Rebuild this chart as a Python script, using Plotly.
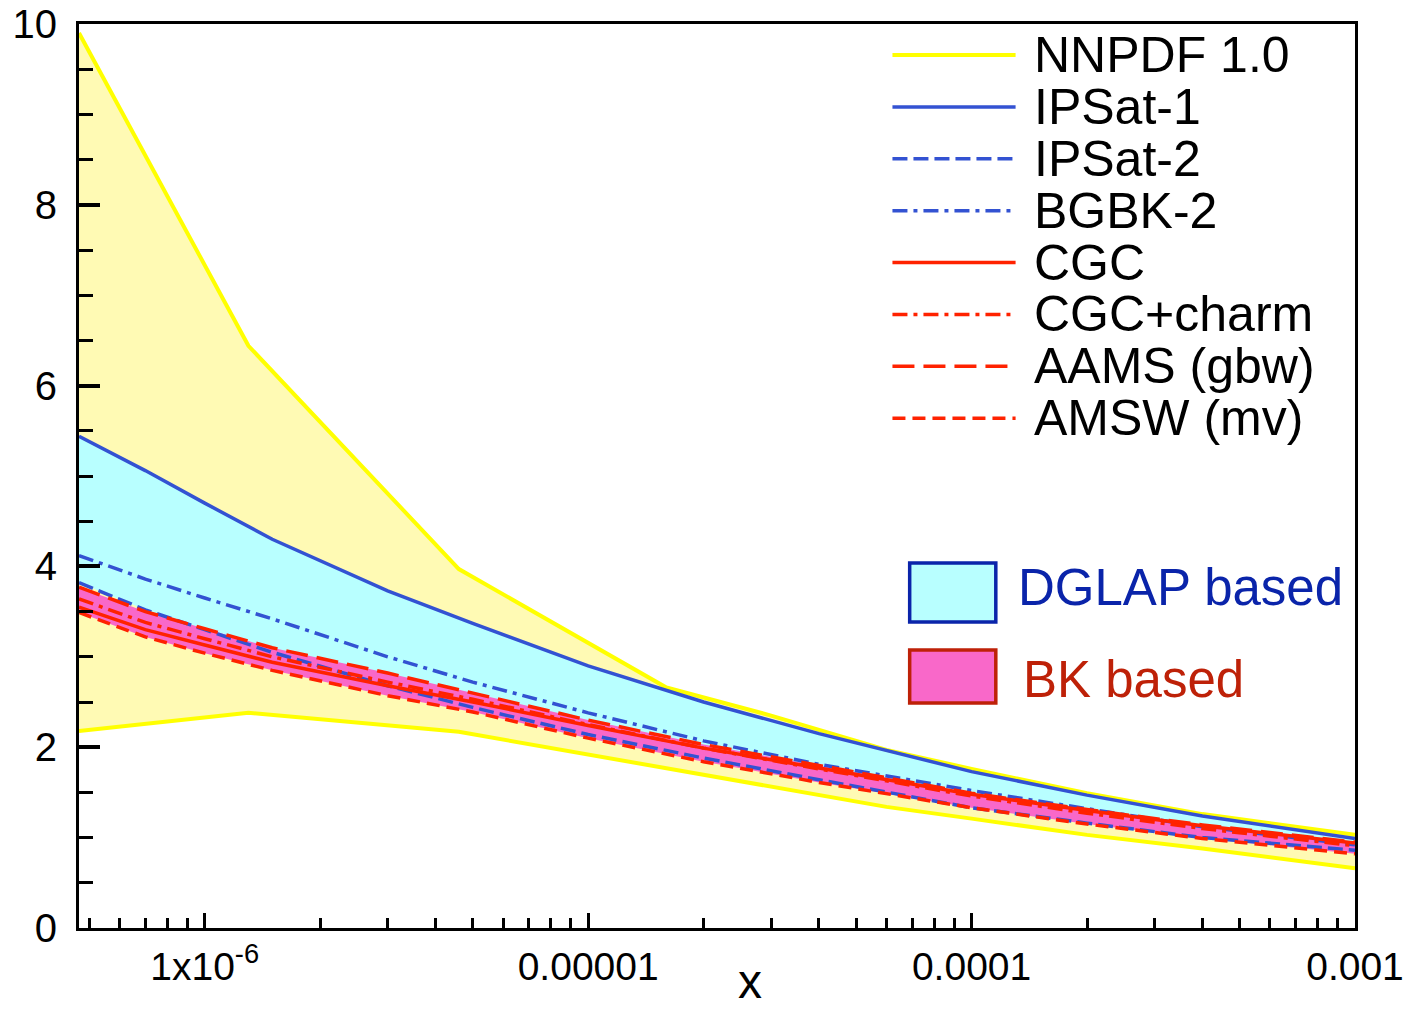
import numpy as np
import plotly.graph_objects as go

# ---------------- data ----------------
x_nn = [4.7e-7, 1.3e-6, 4.6e-6, 1.6e-5, 3e-5, 6e-5, 1e-4, 2e-4, 4e-4, 1e-3]
nnpdf_upper = [9.9, 6.44, 3.97, 2.66, 2.35, 1.97, 1.76, 1.49, 1.26, 1.03]
nnpdf_lower = [2.18, 2.38, 2.17, 1.77, 1.57, 1.34, 1.21, 1.03, 0.88, 0.66]

x_mod = [4.7e-7, 7e-7, 1e-6, 1.5e-6, 3e-6, 5e-6, 1e-5, 2e-5, 4e-5, 1e-4, 2e-4, 4e-4, 1e-3]
ipsat1 = [5.44, 5.06, 4.70, 4.30, 3.73, 3.37, 2.90, 2.50, 2.15, 1.73, 1.47, 1.24, 0.99]
ipsat2 = [3.82, 3.52, 3.30, 3.05, 2.68, 2.44, 2.14, 1.88, 1.64, 1.33, 1.16, 1.00, 0.86]
bgbk2 = [4.12, 3.86, 3.65, 3.42, 3.00, 2.72, 2.38, 2.07, 1.81, 1.52, 1.32, 1.12, 0.92]
cgc = [3.55, 3.30, 3.13, 2.94, 2.68, 2.50, 2.24, 1.99, 1.77, 1.48, 1.30, 1.13, 0.94]
cgc_charm = [3.64, 3.38, 3.20, 3.00, 2.72, 2.53, 2.25, 1.99, 1.76, 1.46, 1.27, 1.10, 0.91]
aams = [3.77, 3.50, 3.31, 3.10, 2.82, 2.60, 2.30, 2.03, 1.80, 1.49, 1.31, 1.14, 0.95]
amsw = [3.49, 3.22, 3.04, 2.85, 2.57, 2.39, 2.10, 1.84, 1.61, 1.33, 1.15, 0.99, 0.82]

x_tickvals = [1e-6, 1e-5, 1e-4, 1e-3]
x_ticktext = ["1x10<sup>-6</sup>", "0.00001", "0.0001", "0.001"]
y_tickvals = [0, 2, 4, 6, 8, 10]

legend_names = ["NNPDF 1.0", "IPSat-1", "IPSat-2", "BGBK-2", "CGC", "CGC+charm", "AAMS (gbw)", "AMSW (mv)"]

# ---------------- styles ----------------
YELLOW = "#FFFF00"
YELLOW_FILL = "#FFFAB4"
CYAN_FILL = "#B8FFFF"
PINK_FILL = "#F968C9"
BLUE = "#3352D2"
RED = "#FF2200"
FONT = "Liberation Sans, Arial, sans-serif"

styles = {
    "NNPDF 1.0": dict(color=YELLOW, dash="solid", width=4),
    "IPSat-1": dict(color=BLUE, dash="solid", width=3.5),
    "IPSat-2": dict(color=BLUE, dash="15px,6px", width=3.5),
    "BGBK-2": dict(color=BLUE, dash="15px,6px,4px,6px", width=3.5),
    "CGC": dict(color=RED, dash="solid", width=3.5),
    "CGC+charm": dict(color=RED, dash="15px,6px,4px,6px", width=3.5),
    "AAMS (gbw)": dict(color=RED, dash="22px,9px", width=3.5),
    "AMSW (mv)": dict(color=RED, dash="13px,7px", width=3.5),
}

fig = go.Figure()

def band(x, lo, hi, color):
    xs = list(x) + list(x)[::-1]
    ys = list(lo) + list(hi)[::-1]
    fig.add_trace(go.Scatter(x=xs, y=ys, mode="lines", fill="toself", fillcolor=color,
                             line=dict(width=0, color=color), hoverinfo="skip", showlegend=False))

# bands
band(x_nn, nnpdf_lower, nnpdf_upper, YELLOW_FILL)
dglap = np.array([ipsat1, ipsat2, bgbk2])
band(x_mod, dglap.min(axis=0), dglap.max(axis=0), CYAN_FILL)
bk = np.array([cgc, cgc_charm, aams, amsw])
band(x_mod, bk.min(axis=0), bk.max(axis=0), PINK_FILL)

def line(x, y, name):
    st = styles[name]
    fig.add_trace(go.Scatter(x=x, y=y, mode="lines", name=name, showlegend=False,
                             line=dict(color=st["color"], dash=st["dash"], width=st["width"])))

line(x_nn, nnpdf_upper, "NNPDF 1.0")
line(x_nn, nnpdf_lower, "NNPDF 1.0")
line(x_mod, ipsat1, "IPSat-1")
line(x_mod, ipsat2, "IPSat-2")
line(x_mod, bgbk2, "BGBK-2")
line(x_mod, amsw, "AMSW (mv)")
line(x_mod, cgc, "CGC")
line(x_mod, cgc_charm, "CGC+charm")
line(x_mod, aams, "AAMS (gbw)")

# ---------------- manual legend ----------------
shapes = []
annotations = []
row0 = 0.9657
drow = 0.0574
lx0, lx1, tx = 0.6375, 0.7340, 0.7470
for i, name in enumerate(legend_names):
    yy = row0 - i * drow
    st = styles[name]
    shapes.append(dict(type="line", xref="paper", yref="paper", x0=lx0, x1=lx1, y0=yy, y1=yy,
                       line=dict(color=st["color"], dash=st["dash"], width=st["width"])))
    annotations.append(dict(xref="paper", yref="paper", x=tx, y=yy, text=name, showarrow=False,
                            xanchor="left", yanchor="middle", font=dict(family=FONT, size=50, color="black")))

# band legend boxes
shapes.append(dict(type="rect", xref="paper", yref="paper", x0=0.6510, x1=0.7185, y0=0.3385, y1=0.4038,
                   fillcolor=CYAN_FILL, line=dict(color="#0A24AA", width=3.5)))
shapes.append(dict(type="rect", xref="paper", yref="paper", x0=0.6510, x1=0.7185, y0=0.2489, y1=0.3075,
                   fillcolor=PINK_FILL, line=dict(color="#BE2108", width=3.5)))
annotations.append(dict(xref="paper", yref="paper", x=0.7340, y=0.3767, text="DGLAP based", showarrow=False,
                        xanchor="left", yanchor="middle", font=dict(family=FONT, size=51, color="#0A24AA")))
annotations.append(dict(xref="paper", yref="paper", x=0.7380, y=0.2754, text="BK based", showarrow=False,
                        xanchor="left", yanchor="middle", font=dict(family=FONT, size=51, color="#BE2108")))
# x-axis title
annotations.append(dict(xref="paper", yref="paper", x=0.526, y=-0.0907, text="x", showarrow=False,
                        xanchor="center", yanchor="bottom", font=dict(family=FONT, size=48, color="black")))

x_minor = [m * 10.0 ** d for d in range(-7, -3) for m in range(2, 10) if 4.7e-7 <= m * 10.0 ** d <= 1e-3]

fig.update_layout(
    width=1403, height=1011,
    margin=dict(l=79, r=48, t=24, b=83, autoexpand=False),
    paper_bgcolor="white", plot_bgcolor="white",
    font=dict(family=FONT, size=40, color="black"),
    shapes=shapes, annotations=annotations,
    showlegend=False,
)
fig.update_xaxes(
    type="log", range=[np.log10(4.7e-7), -3 + 1e-6],
    automargin=False, ticklabeloverflow="allow",
    showline=True, linecolor="black", linewidth=3, mirror=True,
    showgrid=False, zeroline=False,
    tickmode="array", tickvals=x_tickvals, ticktext=x_ticktext,
    ticks="inside", ticklen=15, tickwidth=3, tickcolor="black",
    tickfont=dict(family=FONT, size=39, color="black"), ticklabelstandoff=2,
    minor=dict(tickmode="array", tickvals=x_minor, ticks="inside", ticklen=10, tickwidth=2.5,
               tickcolor="black", showgrid=False),
)
fig.update_yaxes(
    range=[0, 10],
    automargin=False, ticklabeloverflow="allow",
    showline=True, linecolor="black", linewidth=3, mirror=True,
    showgrid=False, zeroline=False,
    tickmode="array", tickvals=y_tickvals,
    ticks="inside", ticklen=21, tickwidth=4, tickcolor="black",
    tickfont=dict(family=FONT, size=40, color="black"), ticklabelstandoff=11,
    minor=dict(dtick=0.5, ticks="inside", ticklen=14, tickwidth=2.5, tickcolor="black", showgrid=False),
)

fig.write_html("out.html")
